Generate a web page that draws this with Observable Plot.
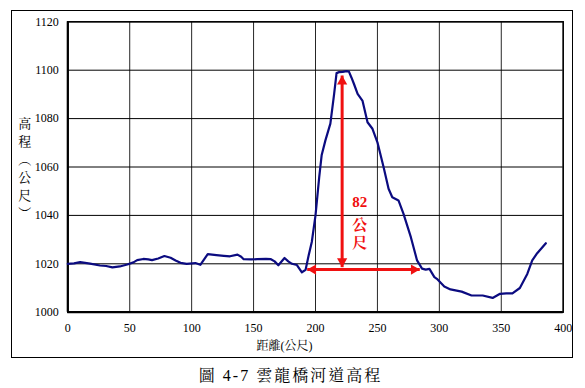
<!DOCTYPE html>
<html>
<head>
<meta charset="utf-8">
<script src="https://cdn.jsdelivr.net/npm/d3@7"></script>
<script src="https://cdn.jsdelivr.net/npm/@observablehq/plot@0.6"></script>
<style>
  html, body { margin: 0; padding: 0; background: #fff; }
  #wrap { position: relative; width: 585px; height: 388px; overflow: hidden; }
  #border { position: absolute; left: 10.5px; top: 10px; width: 560px; height: 346px; border: 1.5px solid #000; }
  #chart { position: absolute; left: 0; top: 0; }
  #chart svg, #chart svg text { font-family: "Liberation Serif", "Noto Serif CJK TC", serif !important; }
  #caption { position: absolute; left: 0; width: 581px; top: 363px; text-align: center;
    font-family: "Liberation Serif", "Noto Serif CJK TC", serif; font-size: 16px; letter-spacing: 2px; color: #000; }
</style>
</head>
<body>
<div id="wrap">
  <div id="border"></div>
  <div id="chart"></div>
  <div id="caption">圖 4-7 雲龍橋河道高程</div>
</div>
<script>
// distance (m) and elevation (m)
const distance = [0,5,10,18,26,31,36,42,48,53,56,61,65,68,73,78,83,87,91,96,103,107,113,120,126,131,137,140,142,148,153,160,164,167,170,175,178,181,185,189,192,194.5,197,200,203,205,208,212,215,217,219,222,225,227,229,231,234,238,242,246,250,255,259,262,267,271,277,282,286,289,292,296,298,304,309,318,326,335,343,349,354,359,365,371,375,379,386];
const elevation = [1020,1020.2,1020.7,1020.1,1019.3,1019.1,1018.5,1018.9,1019.7,1020.6,1021.5,1022,1021.8,1021.5,1022.2,1023.2,1022.5,1021.4,1020.4,1020,1020.3,1019.6,1024,1023.6,1023.3,1023.1,1023.8,1022.9,1021.9,1021.8,1021.9,1022,1021.9,1021,1019.4,1022.4,1021,1020,1019.5,1016.5,1017.5,1023.5,1029,1040,1055.8,1065,1071,1077.9,1090,1098.8,1099.2,1099.3,1099.6,1099.4,1097,1094.4,1090.2,1087.3,1078.5,1075.8,1070.2,1059.9,1051,1047.5,1046.2,1040.7,1031,1021.4,1018,1017.6,1017.9,1014.5,1013.8,1010.6,1009.4,1008.5,1006.9,1006.9,1005.9,1007.6,1007.8,1007.8,1010,1015.8,1021.4,1024.4,1028.5];

const xTicks = [0,50,100,150,200,250,300,350,400];
const yTicks = [1000,1020,1040,1060,1080,1100,1120];

// annotation: 82 m relief
const vArrowX = 221.5, vArrowTop = 1097.8, vArrowBottom = 1018.6;
const hArrowY = 1017.6, hArrowLeft = 193.3, hArrowRight = 284.2;
const annoText = ["82", "公", "尺"];
const annoX = [235.8, 235.8, 235.8];
const annoY = [1045.5, 1035.8, 1028.5];

const profile = distance.map((d, i) => ({d, e: elevation[i]}));
const red = "#f01010";
const navy = "#0b0b80";

const chart = Plot.plot({
  width: 585,
  height: 360,
  marginLeft: 67.3,
  marginRight: 22.3,
  marginTop: 21.3,
  marginBottom: 48.3,
  x: {domain: [0, 400]},
  y: {domain: [1000, 1120]},
  style: {fontSize: "12px", background: "transparent", color: "#000"},
  marks: [
    Plot.gridX(xTicks, {stroke: "#000", strokeOpacity: 0.85, strokeWidth: 1}),
    Plot.gridY(yTicks, {stroke: "#000", strokeOpacity: 1, strokeWidth: 1}),
    Plot.frame({stroke: "#000", strokeWidth: 1.5}),
    Plot.ruleX([0], {stroke: "#000", strokeWidth: 2.2}),
    Plot.ruleY([1000], {stroke: "#000", strokeWidth: 2.2}),
    Plot.axisX(xTicks, {tickSize: 0, tickPadding: 11, label: null, fontSize: 12, tickFormat: d3.format("d")}),
    Plot.axisY(yTicks, {tickSize: 0, tickPadding: 9, label: null, fontSize: 12, tickFormat: d3.format("d")}),
    Plot.text(["距離(公尺)"], {frameAnchor: "bottom", dx: -31, dy: 34, fontSize: 12, lineAnchor: "middle"}),
    Plot.text(["高\n程\n︵\n公\n尺\n︶"], {frameAnchor: "left", textAnchor: "middle", dx: -43, dy: 0, fontSize: 13, lineHeight: 1.38}),
    Plot.line(profile, {x: "d", y: "e", stroke: navy, strokeWidth: 2.2, curve: "linear"}),
    // vertical arrow
    Plot.link([0], {x1: vArrowX, x2: vArrowX, y1: vArrowTop, y2: vArrowBottom, stroke: red, strokeWidth: 3}),
    Plot.dot([0], {x: vArrowX, y: vArrowTop, symbol: "triangle", r: 3.8, fill: red, stroke: "none", dy: 5.9}),
    Plot.dot([0], {x: vArrowX, y: vArrowBottom, symbol: "triangle", r: 3.8, fill: red, stroke: "none", rotate: 180, dy: -5.9}),
    // horizontal arrow
    Plot.link([0], {x1: hArrowLeft, x2: hArrowRight, y1: hArrowY, y2: hArrowY, stroke: red, strokeWidth: 3}),
    Plot.dot([0], {x: hArrowLeft, y: hArrowY, symbol: "triangle", r: 3.8, fill: red, stroke: "none", rotate: -90, dx: 5.9}),
    Plot.dot([0], {x: hArrowRight, y: hArrowY, symbol: "triangle", r: 3.8, fill: red, stroke: "none", rotate: 90, dx: -5.9}),
    Plot.text(annoText, {x: (d, i) => annoX[i], y: (d, i) => annoY[i], text: d => d, fill: red, fontSize: 15, fontWeight: "bold"})
  ]
});
document.getElementById("chart").appendChild(chart);
</script>
</body>
</html>
